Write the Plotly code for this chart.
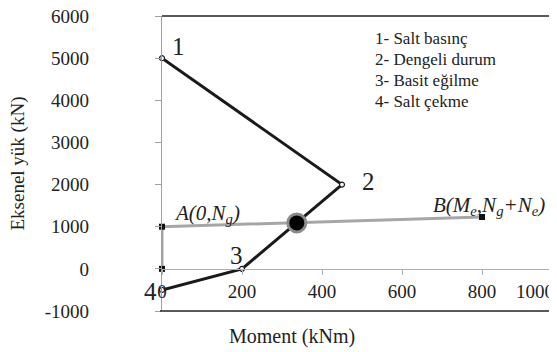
import plotly.graph_objects as go

# Interaction diagram (black) and load path (gray)
diag_m = [0, 450, 200, 0]
diag_n = [5000, 2000, 0, -500]
path_m = [0, 0, 800]
path_n = [0, 1000, 1230]
cross_m = [337]
cross_n = [1090]

x_ticks = [0, 200, 400, 600, 800]
y_ticks = [-1000, 0, 1000, 2000, 3000, 4000, 5000, 6000]

legend_lines = ["1- Salt basınç", "2- Dengeli durum", "3- Basit eğilme", "4- Salt çekme"]

FONT = "Liberation Serif, Times New Roman, serif"
TXT = "#222222"

fig = go.Figure()
fig.add_trace(go.Scatter(x=path_m, y=path_n, mode="lines+markers",
                         line=dict(color="#a6a6a6", width=3),
                         marker=dict(symbol="square", size=6, color="#111111"),
                         showlegend=False, cliponaxis=False))
fig.add_trace(go.Scatter(x=diag_m, y=diag_n, mode="lines+markers",
                         line=dict(color="#1a1a1a", width=3),
                         marker=dict(symbol="circle", size=5, color="white",
                                     line=dict(color="#1a1a1a", width=1.2)),
                         showlegend=False, cliponaxis=False))
fig.add_trace(go.Scatter(x=cross_m, y=cross_n, mode="markers",
                         marker=dict(symbol="circle", size=18, color="black",
                                     line=dict(color="#8a8a8a", width=3)),
                         showlegend=False))

ann = []
def t(x, y, s, size=16, xanchor="center", xref="x", yref="y", **kw):
    ann.append(dict(x=x, y=y, xref=xref, yref=yref, text=s, showarrow=False,
                    xanchor=xanchor, yanchor="middle",
                    font=dict(family=FONT, size=size, color=TXT), **kw))

t(40, 5268, "1", size=25)
t(515, 2065, "2", size=25)
t(185, 308, "3", size=25)
t(-12 / 395, 20 / 295, "4", size=25, xref="paper", yref="paper")
t(25, 1305, "<i>A(0,N<sub>g</sub>)</i>", size=21, xanchor="left")
t(962, 1495, "<i>B(M<sub>e</sub>,N<sub>g</sub>+N<sub>e</sub>)</i>", size=21, xanchor="right")
t(932, -546, "1000", size=19)
for i, yy in enumerate([39, 60, 80, 101]):
    t(0.534, (311 - yy) / 295, legend_lines[i], size=17, xanchor="left",
      xref="paper", yref="paper")
t(0.329, -0.085, "Moment (kNm)", size=20, xref="paper", yref="paper")
t(-0.367, 0.5, "Eksenel yük (kN)", size=19, xref="paper", yref="paper", textangle=-90)

# the page body adds an 8px margin, so the figure is sized/margined to compensate
fig.update_layout(
    width=549, height=344,
    margin=dict(l=154, r=0, t=8, b=41, autoexpand=False),
    paper_bgcolor="white", plot_bgcolor="white",
    font=dict(family=FONT, color=TXT),
    annotations=ann,
    xaxis=dict(range=[0, 987.5], tickvals=x_ticks, ticktext=[str(v) for v in x_ticks],
               showgrid=False, zeroline=False, automargin=False,
               showline=True, linecolor="#b0b0b0", linewidth=1.2,
               ticks="outside", ticklen=5, tickcolor="#b0b0b0",
               anchor="free", position=42 / 295, ticklabeloverflow="allow",
               tickfont=dict(family=FONT, size=19, color=TXT)),
    yaxis=dict(range=[-1000, 6000], tickvals=y_ticks, ticktext=[str(v) for v in y_ticks],
               showgrid=False, zeroline=False, automargin=False,
               showline=True, linecolor="#a0a0a0", linewidth=1.2,
               ticks="outside", ticklen=6, tickcolor="#a0a0a0",
               ticklabelstandoff=62, ticklabeloverflow="allow",
               tickfont=dict(family=FONT, size=19, color=TXT)),
    shapes=[
        dict(type="line", xref="paper", yref="paper", x0=0, x1=1, y0=1, y1=1,
             line=dict(color="#222222", width=1.5)),
        dict(type="line", xref="paper", yref="paper", x0=-0.005, x1=1, y0=0, y1=0,
             line=dict(color="#222222", width=1.5)),
    ],
)

fig.write_html("out.html")
